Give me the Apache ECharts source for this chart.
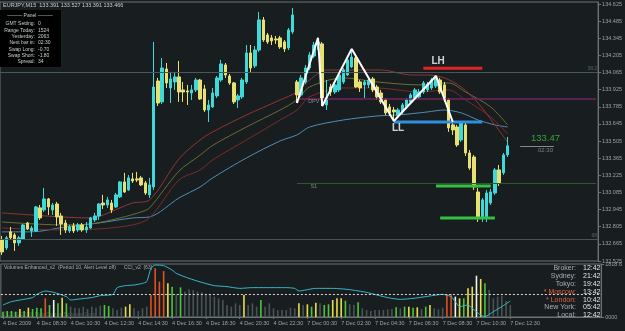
<!DOCTYPE html>
<html>
<head>
<meta charset="utf-8">
<script src="https://cdn.jsdelivr.net/npm/echarts@6/dist/echarts.min.js"></script>
<style>
html, body { margin: 0; padding: 0; background: #181d20; }
#chart { width: 625px; height: 331px; }
</style>
</head>
<body>
<div id="chart"></div>
<script>
// EURJPY M15, 4 Dec 2009 06:30 .. 7 Dec 2009 12:30 (121 bars)
const opens = [
  132.697, 132.632, 132.763, 132.738, 132.673, 132.705, 132.836, 132.771, 132.771, 132.959,
  132.942, 133.032, 132.942, 132.991, 132.893, 132.836, 132.771, 132.812, 132.779, 132.820,
  132.779, 132.795, 132.861, 132.893, 132.999, 132.983, 132.999, 132.967, 133.049, 133.171,
  133.106, 133.196, 133.196, 133.204, 133.163, 133.065, 133.130, 133.996, 133.825, 134.094,
  133.939, 133.988, 134.029, 133.923, 133.915, 133.898, 133.923, 134.004, 133.931, 133.759,
  133.784, 133.874, 134.004, 134.127, 134.037, 133.980, 133.841, 133.866, 133.988, 134.225,
  134.119, 134.249, 134.495, 134.372, 134.348, 134.339, 134.348, 134.315, 134.266, 134.397,
  133.988, 133.882, 133.988, 134.102, 134.200, 134.290, 134.299, 133.800, 133.947, 133.906,
  133.923, 133.988, 134.045, 134.111, 134.184, 133.988, 133.964, 133.964, 134.013, 133.947,
  133.898, 133.841, 133.784, 133.759, 133.718, 133.743, 133.784, 133.825, 133.857, 133.866,
  133.906, 133.923, 133.939, 133.955, 134.004, 133.964, 133.841, 133.637, 133.620, 133.514,
  133.637, 133.408, 133.375, 133.089, 132.885, 132.885, 132.999, 133.081, 133.269, 133.245,
  133.392
];
const closes = [
  132.599, 132.714, 132.714, 132.673, 132.714, 132.820, 132.787, 132.795, 132.967, 132.877,
  133.032, 132.967, 132.983, 132.885, 132.828, 132.779, 132.803, 132.771, 132.820, 132.779,
  132.803, 132.877, 132.893, 132.991, 132.983, 133.024, 132.942, 133.065, 133.171, 133.089,
  133.204, 133.179, 133.187, 133.147, 133.081, 133.147, 133.947, 133.816, 134.102, 133.980,
  134.013, 134.029, 133.906, 133.906, 133.906, 133.923, 134.004, 133.849, 133.759, 133.800,
  133.898, 134.021, 134.135, 134.045, 133.980, 133.825, 133.874, 134.004, 134.225, 134.102,
  134.249, 134.495, 134.331, 134.315, 134.323, 134.331, 134.274, 134.258, 134.413, 134.535,
  133.882, 134.021, 134.102, 134.209, 134.290, 134.315, 133.857, 133.857, 133.906, 133.964,
  134.045, 134.086, 134.168, 134.192, 133.947, 133.939, 133.988, 134.004, 133.923, 133.866,
  133.825, 133.735, 133.735, 133.743, 133.759, 133.800, 133.841, 133.882, 133.923, 133.906,
  133.980, 133.972, 134.004, 134.013, 133.906, 133.841, 133.612, 133.596, 133.473, 133.653,
  133.408, 133.285, 133.130, 132.885, 133.024, 133.081, 133.089, 133.269, 133.163, 133.392,
  133.466
];
const lows = [
  132.575, 132.615, 132.697, 132.607, 132.648, 132.697, 132.779, 132.722, 132.763, 132.861,
  132.926, 132.901, 132.901, 132.812, 132.738, 132.754, 132.754, 132.754, 132.763, 132.763,
  132.754, 132.787, 132.844, 132.861, 132.950, 132.959, 132.918, 132.959, 133.040, 133.081,
  133.098, 133.163, 133.171, 133.138, 133.065, 133.040, 133.106, 133.792, 133.808, 133.939,
  133.816, 133.923, 133.825, 133.825, 133.800, 133.841, 133.906, 133.841, 133.743, 133.661,
  133.776, 133.857, 133.988, 134.021, 133.964, 133.808, 133.776, 133.849, 133.972, 134.070,
  134.102, 134.233, 134.315, 134.299, 134.290, 134.299, 134.258, 134.233, 134.249, 134.380,
  133.816, 133.866, 133.972, 134.086, 134.184, 134.249, 133.792, 133.759, 133.874, 133.890,
  133.906, 133.972, 134.037, 134.102, 133.939, 133.906, 133.857, 133.939, 133.906, 133.841,
  133.808, 133.718, 133.710, 133.669, 133.702, 133.727, 133.767, 133.808, 133.841, 133.849,
  133.890, 133.906, 133.923, 133.939, 133.890, 133.825, 133.580, 133.555, 133.457, 133.498,
  133.383, 133.269, 133.106, 132.844, 132.844, 132.844, 132.983, 133.065, 133.138, 133.228,
  133.375
];
const highs = [
  132.730, 132.730, 132.803, 132.754, 132.730, 132.828, 132.844, 132.812, 132.975, 132.983,
  133.122, 133.040, 132.999, 133.008, 132.918, 132.861, 132.820, 132.836, 132.836, 132.836,
  132.844, 132.885, 132.918, 132.999, 133.065, 133.049, 133.024, 133.081, 133.179, 133.245,
  133.228, 133.245, 133.253, 133.220, 133.179, 133.204, 134.315, 134.021, 134.184, 134.143,
  134.070, 134.070, 134.160, 133.988, 133.964, 133.964, 134.021, 134.013, 133.964, 133.841,
  133.939, 134.037, 134.168, 134.143, 134.053, 133.988, 133.890, 134.021, 134.290, 134.290,
  134.282, 134.560, 134.519, 134.388, 134.372, 134.364, 134.364, 134.331, 134.429, 134.593,
  134.004, 134.045, 134.127, 134.233, 134.315, 134.348, 134.315, 134.004, 133.972, 133.988,
  134.070, 134.102, 134.192, 134.258, 134.209, 134.004, 134.004, 134.021, 134.029, 133.964,
  133.923, 133.857, 133.808, 133.784, 133.776, 133.816, 133.857, 133.898, 133.939, 133.931,
  133.996, 133.988, 134.021, 134.037, 134.021, 133.988, 133.857, 133.661, 133.637, 133.669,
  133.653, 133.432, 133.392, 133.122, 133.040, 133.106, 133.114, 133.285, 133.310, 133.408,
  133.539
];

// moving averages, read at [bar, price]
const maRedTop = [[0,132.918],[7,132.901],[14,132.885],[21,132.877],[24,132.901],[28,132.959],[31,132.999],[35,133.024],[42,133.360],[47,133.514],[50,133.580],[58,133.718],[66,133.841],[70,133.906],[73,134.004],[77,134.086],[82,134.086],[90,134.086],[97,134.045],[101,134.045],[105,134.021],[109,133.947],[113,133.816],[117,133.637],[120,133.498]];
const maOlive = [[0,132.844],[14,132.820],[21,132.828],[28,132.877],[33,132.926],[35,132.959],[42,133.260],[47,133.390],[50,133.470],[58,133.620],[66,133.759],[70,133.841],[73,133.947],[81,134.021],[89,133.988],[99,133.964],[106,133.980],[110,133.906],[116,133.784],[120,133.637]];
const maRedLow = [[0,132.795],[14,132.779],[23,132.787],[31,132.820],[35,132.877],[42,133.187],[47,133.269],[50,133.351],[58,133.514],[66,133.677],[70,133.759],[73,133.866],[81,133.939],[89,133.939],[99,133.906],[106,133.923],[110,133.841],[116,133.702],[120,133.563]];
const maBlue = [[0,132.763],[7,132.763],[15,132.803],[23,132.836],[31,132.877],[35,132.885],[42,133.040],[47,133.130],[50,133.204],[58,133.367],[66,133.506],[70,133.555],[73,133.620],[81,133.677],[89,133.710],[94,133.718],[101,133.743],[105,133.759],[109,133.735],[113,133.677],[117,133.637],[120,133.620]];

const zigzag = [[70,133.816],[75,134.348],[76,133.792],[83,134.258],[93,133.669],[103,134.037],[107,133.661]];

// levels
const levelLH = 134.100;
const levelLL = 133.661;
const levelGreenHi = 133.138;
const levelGreenLo = 132.877;
const pivotDPV = 133.849;
const pivotS1 = 133.163;
const lineUpper = 134.070;
const lineLower = 132.697;
const bid = 133.466;

// volumes and their colour kinds (g green, y yellow, r red, w white, n neutral)
const volumes = [
  183, 206, 206, 183, 274, 206, 320, 274, 320, 297,
  640, 412, 583, 469, 663, 469, 355, 320, 297, 355,
  274, 355, 320, 389, 412, 377, 297, 240, 320, 355,
  435, 297, 206, 297, 355, 755, 1670, 1212, 1578, 1155,
  1040, 777, 1018, 869, 949, 926, 869, 846, 755, 777,
  698, 640, 583, 412, 355, 469, 412, 755, 412, 469,
  355, 583, 355, 469, 297, 240, 240, 240, 320, 297,
  469, 412, 435, 355, 492, 469, 412, 435, 583, 640,
  640, 560, 435, 412, 503, 297, 240, 206, 240, 240,
  240, 263, 274, 332, 297, 355, 355, 320, 332, 274,
  355, 412, 297, 263, 320, 777, 777, 698, 640, 640,
  983, 1040, 1417, 1303, 1155, 926, 640, 698, 732, 549,
  412
];
const volKinds = ('ggggygyggg' + 'rgwgygnnnn' + 'nnnnggnnny' + 'ynnnnrrrry' + 'gngnnnnnnn' +
  'nnnnnnnynn' + 'ngnnnnnnnn' + 'ynygynggyy' + 'ygnngnnnnn' + 'nnngngygyn' +
  'gynnnrrwyg' + 'yywygnnnnn' + 'n').split('');

const cci = [[0,-88],[2,-61],[4,-48],[7,-29],[8,-3],[10,24],[12,13],[15,-21],[16,-48],[18,-40],[21,-29],[23,-13],[26,-3],[27,51],[29,67],[31,72],[33,85],[34,99],[35,205],[36,232],[38,227],[40,192],[41,165],[44,125],[47,93],[50,67],[53,59],[56,45],[59,51],[63,51],[67,51],[69,45],[70,24],[74,45],[78,45],[82,35],[86,13],[91,-29],[94,-43],[97,-35],[100,-21],[104,-3],[106,-21],[107,-61],[108,-101],[110,-88],[111,-115],[113,-168],[114,-181],[116,-141],[118,-101],[120,-56]];

const tickLabels = ['4 Dec 2009', '4 Dec 08:30', '4 Dec 10:30', '4 Dec 12:30', '4 Dec 14:30', '4 Dec 16:30',
  '4 Dec 18:30', '4 Dec 20:30', '4 Dec 22:30', '7 Dec 00:30', '7 Dec 02:30', '7 Dec 04:30',
  '7 Dec 06:30', '7 Dec 08:30', '7 Dec 10:30', '7 Dec 12:30'];

const clockRows = [
  ['Broker:', '12:42', false], ['Sydney:', '21:42', false], ['Tokyo:', '19:42', false],
  ['* Moscow:', '13:42', true], ['* London:', '10:42', true], ['New York:', '05:42', false],
  ['Local:', '12:42', false]
];
const panelRows = [
  ['GMT Setting:', '0'], ['Range Today:', '1524'], ['Yesterday:', '2063'], ['Next bar in:', '02:30'],
  ['Swap Long:', '-0.70'], ['Swap Short:', '-1.80'], ['Spread:', '34']
];

const slots = Array.from({ length: 142 }, (_, i) => String(i));
const FONT = 'Liberation Sans';
const AX = '#6c7575';
const LBL = '#9aa3a3';
const kindColor = { g: '#4fc43a', y: '#e6df4a', r: '#e0521e', w: '#f4f4f4', n: '#4b5454' };
const tickEvery = (i) => i % 8 === 0 && i <= 120;

const chart = echarts.init(document.getElementById('chart'));

const segment = (from, to, price, color) => ({
  type: 'line', xAxisIndex: 0, yAxisIndex: 0, symbol: 'none', silent: true,
  data: [[from, price], [to, price]],
  lineStyle: { color: color, width: 3 }, z: 4
});
const note = (text, at, style) => ({
  type: 'scatter', xAxisIndex: 0, yAxisIndex: 0, symbolSize: 0, silent: true, z: 6,
  data: [at],
  label: Object.assign({ show: true, position: 'inside', formatter: text, fontFamily: FONT }, style)
});
const maLine = (data, color) => ({
  type: 'line', xAxisIndex: 0, yAxisIndex: 0, data: data, smooth: 0.3, symbol: 'none', silent: true,
  lineStyle: { color: color, width: 1 }, z: 2
});

const graphics = [
  { type: 'text', left: 3, top: 2, style: { text: 'EURJPY,M15  133.391 133.527 133.391 133.466', fill: '#c8d0d0', font: '5.5px ' + FONT } },
  { type: 'rect', shape: { x: 0, y: 10, width: 61, height: 57 }, style: { fill: '#000' } },
  { type: 'text', x: 30, y: 16, style: { text: '——— Panel ———', fill: '#c8d0d0', font: '5px ' + FONT, align: 'center', verticalAlign: 'middle' } },
  { type: 'text', x: 4, y: 268, style: { text: 'Volumes Enhanced_v2  (Period 10, Alert Level off)', fill: '#a8b0b0', font: '5px ' + FONT, verticalAlign: 'middle' } },
  { type: 'text', x: 124, y: 268, style: { text: 'CCI_v2  (63)', fill: '#a8b0b0', font: '5px ' + FONT, verticalAlign: 'middle' } },
  { type: 'text', x: 3, y: 315, style: { text: '© 2001-2009, MetaQuotes Software Corp.', fill: '#4e5858', font: '5px ' + FONT, verticalAlign: 'middle' } }
];
panelRows.forEach((r, i) => {
  const y = 24 + i * 6.3;
  graphics.push({ type: 'text', x: 35, y: y, style: { text: r[0], fill: '#c8d0d0', font: '5px ' + FONT, align: 'right', verticalAlign: 'middle' } });
  graphics.push({ type: 'text', x: 38, y: y, style: { text: r[1], fill: '#c8d0d0', font: '5px ' + FONT, verticalAlign: 'middle' } });
});
clockRows.forEach((r, i) => {
  const y = 268 + i * 7.9;
  graphics.push({ type: 'text', x: 576, y: y, style: { text: r[0], fill: r[2] ? '#e0623c' : '#a8b0b8', font: '7px ' + FONT, align: 'right', verticalAlign: 'middle' } });
  graphics.push({ type: 'text', x: 583, y: y, style: { text: r[1], fill: '#e4e4e4', font: '7px ' + FONT, verticalAlign: 'middle' } });
});

chart.setOption({
  backgroundColor: '#181d20',
  animation: false,
  textStyle: { fontFamily: FONT },
  grid: [
    { left: 0, top: 2, width: 602, height: 259, show: true, borderColor: AX, borderWidth: 1 },
    { left: 0, top: 264, width: 602, height: 53, show: true, borderColor: AX, borderWidth: 1 }
  ],
  xAxis: [
    { type: 'category', gridIndex: 0, data: slots, boundaryGap: true, show: false },
    {
      type: 'category', gridIndex: 1, data: slots, boundaryGap: true, position: 'bottom',
      axisLine: { lineStyle: { color: AX } },
      axisTick: { show: true, alignWithLabel: true, interval: tickEvery, length: 2, lineStyle: { color: AX } },
      axisLabel: { interval: tickEvery, formatter: (v, i) => tickLabels[i / 8], color: LBL, fontSize: 5.5, align: 'left', margin: 3 }
    }
  ],
  yAxis: [
    {
      type: 'value', gridIndex: 0, position: 'right', min: 132.525, max: 134.6413, interval: 0.14,
      axisLine: { show: true, lineStyle: { color: AX } },
      axisTick: { show: true, length: 3, lineStyle: { color: AX } },
      axisLabel: { color: LBL, fontSize: 5.5, margin: 4, showMaxLabel: false, formatter: (v) => v.toFixed(3) },
      splitLine: { show: false }
    },
    {
      type: 'value', gridIndex: 1, position: 'right', min: 0, max: 1818.6, interval: 1818.6,
      axisLine: { show: true, lineStyle: { color: AX } },
      axisTick: { show: true, length: 3, lineStyle: { color: AX } },
      axisLabel: { color: LBL, fontSize: 5.5, margin: 4, formatter: (v) => (v > 0 ? '1818.6' : '0000') },
      splitLine: { show: false }
    },
    { type: 'value', gridIndex: 1, min: -184, max: 240, show: false }
  ],
  graphic: graphics,
  series: [
    maLine(maBlue, '#4f8db4'),
    maLine(maRedLow, '#7c2a2a'),
    maLine(maOlive, '#6e6c34'),
    maLine(maRedTop, '#943434'),
    {
      type: 'candlestick', xAxisIndex: 0, yAxisIndex: 0, barWidth: 3, z: 3,
      data: opens.map((o, i) => [o, closes[i], lows[i], highs[i]]),
      itemStyle: { color: '#3fd9d9', color0: '#e8e070', borderColor: '#3fd9d9', borderColor0: '#e8e070', borderWidth: 1 },
      markLine: {
        symbol: 'none', silent: true,
        label: { show: false },
        data: [
          { yAxis: lineUpper, lineStyle: { color: '#46585c', width: 1, type: 'solid' },
            label: { show: true, position: 'insideEndTop', formatter: '38.2', color: '#55666a', fontSize: 5, distance: 1 } },
          { yAxis: lineLower, lineStyle: { color: '#4a5456', width: 1, type: 'solid' },
            label: { show: true, position: 'insideEndTop', formatter: '68', color: '#55666a', fontSize: 5, distance: 1 } },
          [{ coord: [70, pivotDPV], lineStyle: { color: '#6e2462', width: 1.5, type: 'solid' } }, { coord: [141, pivotDPV] }],
          [{ coord: [70, pivotS1], lineStyle: { color: '#2c5a2c', width: 1, type: 'solid' } }, { coord: [141, pivotS1] }],
          [{ coord: [123, bid], lineStyle: { color: '#7e8c8c', width: 1, type: 'solid' } }, { coord: [131, bid] }],
          { yAxis: bid, lineStyle: { opacity: 0 },
            label: { show: true, position: 'end', distance: 3, formatter: '133.466', color: '#1b1f20', backgroundColor: '#c4cccc', fontSize: 5.5, padding: [1, 1] } }
        ]
      }
    },
    {
      type: 'line', xAxisIndex: 0, yAxisIndex: 0, data: zigzag, symbol: 'none', silent: true,
      lineStyle: { color: '#ffffff', width: 2 }, z: 5
    },
    segment(100, 114, levelLH, '#e02424'),
    segment(93, 114, levelLL, '#2f8fe0'),
    segment(103, 116, levelGreenHi, '#34c040'),
    segment(104, 117, levelGreenLo, '#34c040'),
    note('LH', [104, 134.159], { color: '#ffffff', fontSize: 10, fontWeight: 'bold', offset: [-2, 0] }),
    note('LL', [94, 133.608], { color: '#ffffff', fontSize: 10, fontWeight: 'bold' }),
    note('DPV', [74, 133.825], { color: '#9aa0a0', fontSize: 5.5 }),
    note('S1', [74, 133.134], { color: '#9aa0a0', fontSize: 5.5 }),
    note('133.47', [129, 133.531], { color: '#3fc43f', fontSize: 9.5 }),
    note('02:30', [129, 133.432], { color: '#8c9c9c', fontSize: 6 }),
    {
      type: 'bar', xAxisIndex: 1, yAxisIndex: 1, barWidth: 1.6, silent: true,
      data: volumes.map((v, i) => ({ value: v, itemStyle: { color: kindColor[volKinds[i]] } }))
    },
    {
      type: 'line', xAxisIndex: 1, yAxisIndex: 2, data: cci, smooth: 0.2, symbol: 'none', silent: true,
      lineStyle: { color: '#36b9c6', width: 1 }, z: 4,
      markLine: {
        symbol: 'none', silent: true, label: { show: false },
        data: [{ yAxis: 0 }],
        lineStyle: { color: '#d8d8d8', width: 1, type: [2, 2] }
      }
    }
  ]
});
</script>
</body>
</html>
